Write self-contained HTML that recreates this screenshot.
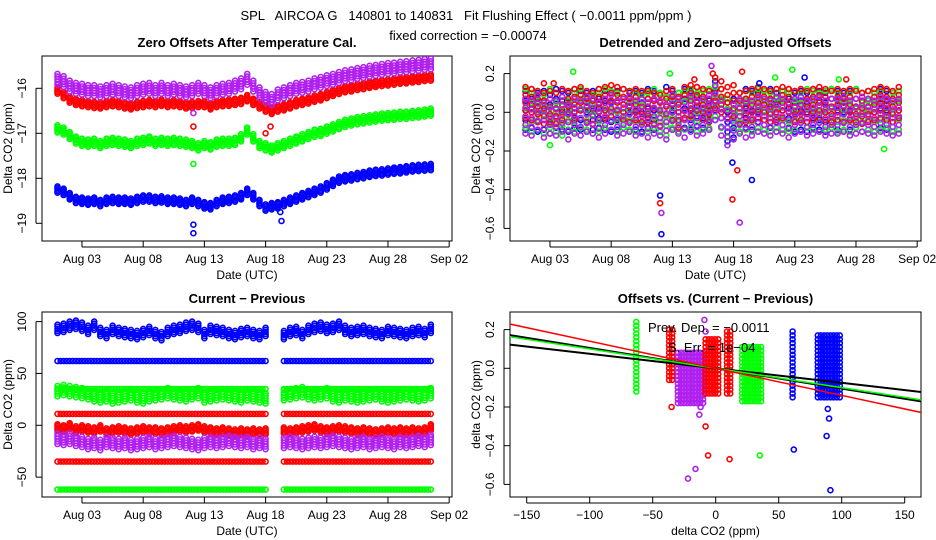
<!DOCTYPE html>
<html><head><meta charset="utf-8"><style>
html,body{margin:0;padding:0;background:#fff}
svg{display:block;font-family:"Liberation Sans",sans-serif}
</style></head><body>
<svg id="c" width="936" height="540" viewBox="0 0 936 540" xmlns="http://www.w3.org/2000/svg">
<text x="466" y="20" font-size="13" text-anchor="middle" xml:space="preserve" style="white-space:pre">SPL   AIRCOA G   140801 to 140831   Fit Flushing Effect ( −0.0011 ppm/ppm )</text>
<text x="468" y="40" font-size="13" text-anchor="middle">fixed correction = −0.00074</text>
</svg>
<script>
const T=[1,1.5,2,2.5,3,3.5,4,4.5,5,5.5,6,6.5,7,7.5,8,8.5,9,9.5,10,10.5,11,11.5,12,12.5,13,13.5,14,14.5,15,15.5,16,16.5,17,17.5,18,18.5,19,19.5,20,20.5,21,21.5,22,22.5,23,23.5,24,24.5,25,25.5,26,26.5,27,27.5,28,28.5,29,29.5,30,30.5,31,31.5];
// Top-left: zero offsets
const zoPurple=[-15.8,-15.85,-15.95,-16.0,-16.02,-16.05,-16.05,-16.08,-16.05,-16.02,-16.05,-16.08,-16.1,-16.05,-16.02,-16.0,-16.05,-16.0,-16.05,-16.02,-16.05,-16.08,-16.05,-16.0,-16.05,-16.1,-16.05,-16.02,-16.0,-15.95,-15.9,-15.8,-15.95,-16.1,-16.2,-16.25,-16.15,-16.1,-16.05,-16.0,-15.98,-15.95,-15.9,-15.87,-15.83,-15.8,-15.76,-15.72,-15.7,-15.67,-15.65,-15.62,-15.6,-15.58,-15.56,-15.55,-15.53,-15.52,-15.5,-15.49,-15.47,-15.46];
const zoRed=[-16.05,-16.15,-16.25,-16.3,-16.33,-16.35,-16.37,-16.38,-16.35,-16.33,-16.35,-16.38,-16.4,-16.37,-16.35,-16.33,-16.35,-16.32,-16.35,-16.33,-16.35,-16.38,-16.37,-16.35,-16.35,-16.4,-16.35,-16.33,-16.32,-16.3,-16.28,-16.22,-16.3,-16.38,-16.45,-16.5,-16.45,-16.42,-16.38,-16.33,-16.3,-16.27,-16.23,-16.2,-16.15,-16.1,-16.06,-16.02,-16.0,-15.97,-15.95,-15.92,-15.9,-15.88,-15.87,-15.85,-15.83,-15.82,-15.8,-15.79,-15.77,-15.76];
const zoGreen=[-16.9,-16.95,-17.05,-17.15,-17.2,-17.22,-17.2,-17.25,-17.2,-17.18,-17.2,-17.22,-17.25,-17.2,-17.18,-17.15,-17.2,-17.18,-17.2,-17.18,-17.2,-17.22,-17.25,-17.3,-17.25,-17.28,-17.22,-17.2,-17.2,-17.18,-17.1,-16.95,-17.1,-17.25,-17.3,-17.35,-17.3,-17.25,-17.2,-17.15,-17.1,-17.05,-17.0,-16.98,-16.93,-16.88,-16.83,-16.78,-16.75,-16.72,-16.7,-16.68,-16.66,-16.64,-16.63,-16.62,-16.6,-16.6,-16.58,-16.57,-16.55,-16.53];
const zoBlue=[-18.25,-18.3,-18.4,-18.48,-18.5,-18.52,-18.5,-18.55,-18.5,-18.48,-18.5,-18.5,-18.52,-18.48,-18.45,-18.45,-18.48,-18.47,-18.5,-18.5,-18.52,-18.55,-18.5,-18.55,-18.6,-18.62,-18.55,-18.5,-18.48,-18.45,-18.4,-18.3,-18.4,-18.55,-18.65,-18.62,-18.6,-18.55,-18.5,-18.45,-18.4,-18.35,-18.3,-18.25,-18.18,-18.1,-18.03,-18.0,-17.98,-17.95,-17.93,-17.9,-17.88,-17.87,-17.85,-17.83,-17.82,-17.8,-17.78,-17.77,-17.76,-17.75];
const zoOutT=[12.1,12.1,12.1,12.1,12.1,18.0,18.4,19.3,19.2];
const zoOutV=[-16.55,-16.85,-17.68,-19.03,-19.22,-17.0,-16.85,-18.95,-18.75];
const zoOutC=["p","r","g","b","b","r","r","b","b"];
// Top-right: detrended
const dtPurple=[-0.02,-0.03,0.0,-0.04,-0.02,-0.03,-0.01,-0.05,-0.02,-0.03,-0.01,-0.02,-0.04,-0.02,0.0,-0.03,-0.02,-0.01,-0.03,-0.02,-0.04,-0.02,-0.03,-0.05,0.0,-0.02,-0.04,-0.01,-0.03,-0.02,0.0,0.05,-0.03,-0.08,-0.05,-0.02,-0.04,-0.03,-0.01,-0.02,-0.03,-0.01,-0.02,-0.04,-0.02,-0.01,-0.03,-0.02,-0.01,-0.03,-0.02,-0.02,-0.01,-0.03,-0.02,-0.01,-0.02,-0.03,-0.01,-0.02,-0.03,-0.02];
const dtRed=[0.05,0.04,0.03,0.02,0.03,0.02,0.04,0.03,0.04,0.05,0.03,0.02,0.04,0.05,0.06,0.05,0.04,0.03,0.04,0.03,0.03,0.02,0.01,0.03,0.04,0.0,0.05,0.06,0.05,0.04,0.03,0.1,0.08,0.05,0.06,0.02,0.03,0.04,0.05,0.04,0.03,0.04,0.05,0.04,0.03,0.04,0.03,0.04,0.05,0.04,0.03,0.04,0.03,0.04,0.03,0.02,0.03,0.04,0.05,0.04,0.03,0.05];
const dtGreen=[0.02,0.0,0.01,-0.01,0.02,0.0,-0.02,0.01,0.0,0.02,0.01,-0.01,0.0,0.02,0.01,0.0,0.02,0.01,0.0,-0.01,0.0,0.02,0.0,-0.02,0.02,0.0,0.01,0.02,0.0,0.01,0.02,0.08,0.02,-0.03,-0.04,0.0,0.01,0.0,0.02,0.01,0.0,0.02,0.01,0.0,0.01,0.0,0.02,0.01,0.0,0.01,0.02,0.0,0.01,0.0,0.02,0.0,0.01,0.0,0.01,0.02,0.0,0.01];
const dtBlue=[0.01,0.02,0.0,0.01,-0.01,0.02,0.01,0.0,0.02,0.01,0.0,0.01,0.02,0.01,0.0,0.01,0.02,0.0,0.01,0.0,0.02,0.01,0.0,0.03,0.01,0.0,0.02,0.01,0.03,0.02,0.01,0.06,0.02,-0.05,-0.03,0.0,0.02,0.01,0.0,0.01,0.02,0.0,0.01,0.02,0.0,0.01,0.0,0.02,0.01,0.0,0.02,0.01,0.0,0.01,0.02,0.0,0.01,0.0,0.02,0.01,0.0,0.01];
const dtOutT=[4.9,2.5,12.0,12.0,12.1,12.1,16.2,16.3,17.9,17.9,18.3,18.5,18.7,19.5,20.1,21.4,22.8,23.8,12.8,14.8,3.3,26.6,27.2,30.3,3.0];
const dtOutV=[0.21,0.15,-0.43,-0.47,-0.63,-0.52,0.24,0.2,-0.26,-0.45,-0.3,-0.57,0.21,-0.35,0.15,0.18,0.22,0.18,0.2,0.17,0.15,0.17,0.17,-0.19,-0.17];
const dtOutC=["g","r","b","r","b","p","p","r","b","r","r","p","r","b","b","g","g","b","g","r","r","g","r","g","g"];
// Bottom-left: current - previous
const cpBlue=[93,94,96,97,95,92,96,90,88,92,90,89,88,87,89,91,88,86,90,92,93,95,96,94,88,92,91,90,88,87,89,90,88,87,90,92,88,87,90,91,88,92,94,95,93,94,96,92,90,91,92,90,89,88,91,90,89,88,90,91,89,93];
const cpGreen=[33,34,33,32,31,30,28,27,28,26,27,28,29,27,26,28,29,30,31,30,29,28,30,31,27,28,29,30,29,28,27,29,28,27,26,27,28,29,30,31,32,30,29,30,31,28,27,29,28,27,28,29,30,28,27,28,29,30,29,28,29,31];
const cpRed=[-2,-3,-1,-4,-3,-4,-5,-3,-6,-5,-4,-5,-6,-5,-4,-5,-5,-6,-5,-4,-3,-4,-3,-2,-4,-5,-6,-5,-6,-7,-6,-7,-6,-7,-6,-7,-6,-5,-6,-5,-4,-3,-2,-4,-5,-4,-3,-4,-5,-6,-5,-6,-7,-6,-5,-6,-5,-6,-5,-6,-5,-2];
const cpPurple=[-13,-14,-13,-15,-16,-18,-17,-19,-16,-17,-18,-17,-19,-18,-17,-16,-18,-17,-16,-15,-16,-17,-18,-19,-17,-16,-17,-16,-15,-16,-17,-16,-18,-17,-18,-19,-18,-17,-16,-17,-18,-17,-16,-17,-16,-15,-16,-17,-18,-17,-16,-18,-17,-16,-17,-18,-16,-17,-16,-15,-16,-14];
const cpLevels=[62,35,11,-35,-62];
const cpLevelC=["b","g","r","r","g"];
const cpGapStart=18.15, cpGapEnd=19.3;
// Bottom-right: offsets vs current-previous
const clX=[-62,-35,-20,-3,11,29,62,90];
const clXHalf=[1,2,10,5,2,8,1,9];
const clYLo=[-0.12,-0.06,-0.18,-0.13,-0.13,-0.17,-0.15,-0.15];
const clYHi=[0.24,0.2,0.08,0.15,0.2,0.12,0.19,0.17];
const clC=["g","r","p","r","r","g","b","b"];
const ovOutX=[-35,-8,-6,11,-22,-16,-13,-12,35,62,88,89,90,91,-9,-8];
const ovOutY=[-0.2,-0.3,-0.45,-0.47,-0.57,-0.52,-0.24,-0.2,-0.45,-0.42,-0.35,-0.21,-0.26,-0.63,0.25,0.19];
const ovOutC=["r","r","r","r","p","p","p","p","g","b","b","b","b","b","p","p"];
const fitSlope=[-0.00075,-0.00105,-0.001,-0.0014];
const fitC=["k","k","g","r"];

const COL={r:"#ff0000",g:"#00ff00",b:"#0000ff",p:"#b020f0",k:"#000000"};
const NS="http://www.w3.org/2000/svg";
const svg=document.getElementById('c');
const K5=[-1,-0.5,0,0.5,1];
function mk(tag,attrs,parent){const e=document.createElementNS(NS,tag);for(const k in attrs)e.setAttribute(k,attrs[k]);(parent||svg).appendChild(e);return e;}
function circ(g,x,y,c){const e=mk('circle',{cx:x.toFixed(1),cy:y.toFixed(1),r:2.5,fill:'none',stroke:COL[c],'stroke-width':1.6},g);

}
function panel(id,name,L,R,Tp,B,title,xt,xlab,yt,ylab,ylabx){
 const g=mk('g',{});
 
 
 const ti=mk('text',{x:(L+R)/2,y:Tp-9,'font-size':13,'font-weight':'bold','text-anchor':'middle'},g);ti.textContent=title;
 
 
 const box=mk('rect',{x:L,y:Tp,width:R-L,height:B-Tp,fill:'none',stroke:'#000','stroke-width':1},g);
 
 
 xt.forEach(t=>{mk('line',{x1:t.p,x2:t.p,y1:B,y2:B+6,stroke:'#000'},g);const s=mk('text',{x:t.p,y:B+22,'font-size':12,'text-anchor':'middle'},g);s.textContent=t.l;
  
  });
 mk('line',{x1:xt[0].p,x2:xt[xt.length-1].p,y1:B+6,y2:B+6,stroke:'#000'},g);
 const xl=mk('text',{x:(L+R)/2,y:B+38,'font-size':12,'text-anchor':'middle'},g);xl.textContent=xlab;
 
 
 yt.forEach(t=>{mk('line',{x1:L-6,x2:L,y1:t.p,y2:t.p,stroke:'#000'},g);const s=mk('text',{x:ylabx+14,y:t.p,'font-size':12,'text-anchor':'middle',transform:`rotate(-90 ${ylabx+14} ${t.p})`},g);s.textContent=t.l;
  
  });
 mk('line',{x1:L-6,x2:L-6,y1:yt[0].p,y2:yt[yt.length-1].p,stroke:'#000'},g);
 const yl=mk('text',{x:ylabx,y:(Tp+B)/2,'font-size':12,'text-anchor':'middle',transform:`rotate(-90 ${ylabx} ${(Tp+B)/2})`},g);yl.textContent=ylab;
 
 
 const cp=mk('clipPath',{id:id},g);mk('rect',{x:L,y:Tp,width:R-L,height:B-Tp},cp);
 const d=mk('g',{'clip-path':`url(#${id})`},g);
 
 
 return d;
}
const dates=["Aug 03","Aug 08","Aug 13","Aug 18","Aug 23","Aug 28","Sep 02"];
const dateDays=[3,8,13,18,23,28,33];
const fmt=v=>(v<0?"−":"")+Math.abs(v);
// Panel 1
{const X=d=>57.5+(d-1)*12.24, Y=v=>88.3+(-16-v)*45;
 const g=panel('c1','zero-offsets-panel',42,452,56,241,'Zero Offsets After Temperature Cal.',dateDays.map((d,i)=>({p:X(d),l:dates[i]})),'Date (UTC)',[-16,-17,-18,-19].map(v=>({p:Y(v),l:fmt(v)})),'Delta CO2 (ppm)',12);
 [[zoBlue,'b',0.07],[zoGreen,'g',0.08],[zoRed,'r',0.07],[zoPurple,'p',0.12]].forEach(([a,c,s])=>{a.forEach((v,i)=>{K5.forEach(k=>circ(g,X(T[i]),Y(v+k*s),c));});});
 zoOutT.forEach((t,i)=>circ(g,X(t),Y(zoOutV[i]),zoOutC[i]));}
// Panel 2
{const X=d=>525.5+(d-1)*12.24, Y=v=>112.3-v*193.5;
 const g=panel('c2','detrended-offsets-panel',510,921,56,241,'Detrended and Zero−adjusted Offsets',dateDays.map((d,i)=>({p:X(d),l:dates[i]})),'Date (UTC)',[0.2,0,-0.2,-0.4,-0.6].map(v=>({p:Y(v),l:v===0?'0.0':fmt(v)})),'Delta CO2 (ppm)',480);
 [[dtBlue,'b',0.1],[dtGreen,'g',0.1],[dtRed,'r',0.08],[dtPurple,'p',0.09]].forEach(([a,c,s])=>{a.forEach((v,i)=>{K5.forEach(k=>circ(g,X(T[i]),Y(v+k*s),c));});});
 dtOutT.forEach((t,i)=>circ(g,X(t),Y(dtOutV[i]),dtOutC[i]));}
// Panel 3
{const X=d=>57.5+(d-1)*12.24, Y=v=>425.3-v*1.037;
 const g=panel('c3','current-minus-previous-panel',42,452,312,497,'Current − Previous',dateDays.map((d,i)=>({p:X(d),l:dates[i]})),'Date (UTC)',[100,50,0,-50].map(v=>({p:Y(v),l:fmt(v)})),'Delta CO2 (ppm)',12);
 cpLevels.forEach((lv,j)=>{for(let t=1;t<=31.6;t+=0.25){if(t>cpGapStart&&t<cpGapEnd)continue;circ(g,X(t),Y(lv),cpLevelC[j]);}});
 [[cpBlue,'b',4],[cpGreen,'g',5],[cpRed,'r',3],[cpPurple,'p',5]].forEach(([a,c,s])=>{a.forEach((v,i)=>{if(T[i]>cpGapStart&&T[i]<cpGapEnd)return;K5.forEach(k=>circ(g,X(T[i]),Y(v+k*s),c));});});}
// Panel 4
{const X=v=>715.7+v*1.26, Y=v=>368.3-v*193.5;
 const g=panel('c4','offsets-vs-difference-panel',510,921,312,497,'Offsets vs. (Current − Previous)',[-150,-100,-50,0,50,100,150].map(v=>({p:X(v),l:fmt(v)})),'delta CO2 (ppm)',[0.2,0,-0.2,-0.4,-0.6].map(v=>({p:Y(v),l:v===0?'0.0':fmt(v)})),'delta CO2 (ppm)',480);
 clX.forEach((cx,i)=>{for(let x=cx-clXHalf[i];x<=cx+clXHalf[i]+0.01;x+=Math.max(2.5,clXHalf[i]/4)){for(let y=clYLo[i];y<=clYHi[i]+0.001;y+=0.02){circ(g,X(x),Y(y),clC[i]);}}});
 ovOutX.forEach((x,i)=>circ(g,X(x),Y(ovOutY[i]),ovOutC[i]));
 fitSlope.forEach((s,i)=>{const l=mk('line',{x1:X(-170),y1:Y(-170*s),x2:X(170),y2:Y(170*s),stroke:COL[fitC[i]],'stroke-width':fitC[i]==='k'?2:1.5},g);
  
  });
 const t1=mk('text',{x:648,y:332,'font-size':13},g.parentNode);t1.textContent='Prev. Dep. = −0.0011';
 
 
 const t2=mk('text',{x:668,y:352,'font-size':13},g.parentNode);t2.textContent='S. Err. = 1e−04';
 
 }
</script>
</body></html>
